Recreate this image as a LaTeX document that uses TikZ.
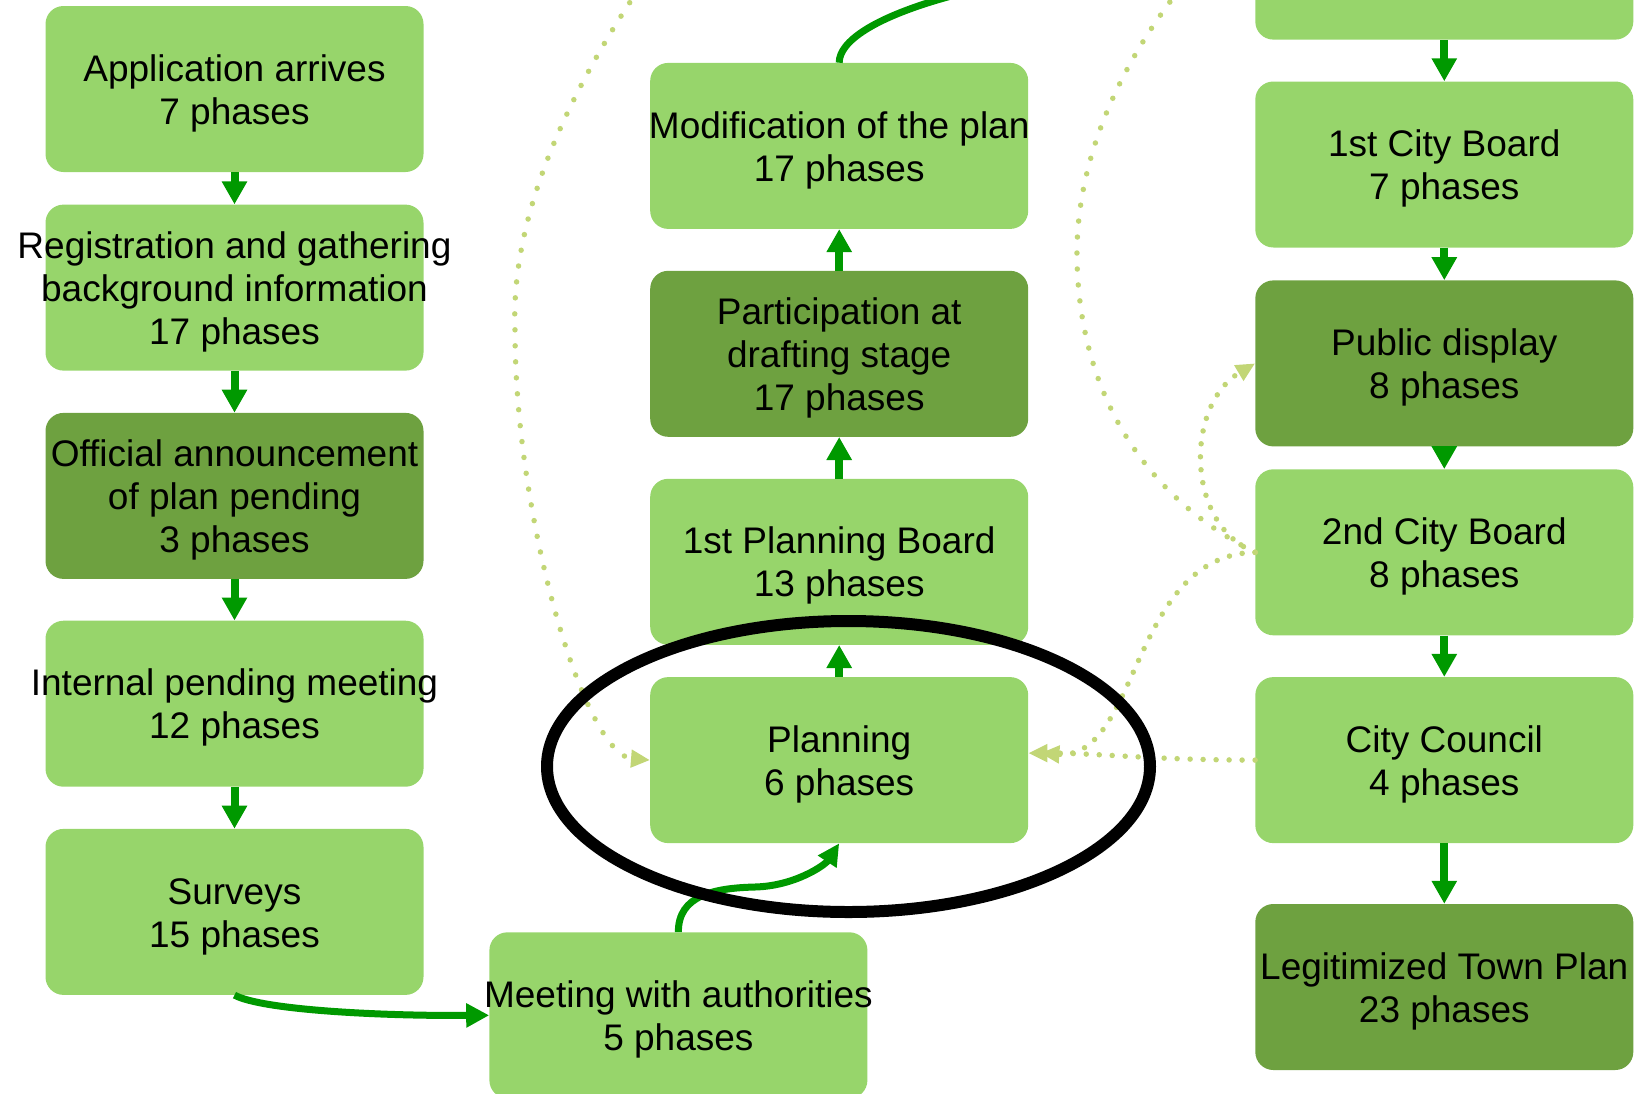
\documentclass[tikz,border=0pt]{standalone}
\usepackage{fontspec}
\setmainfont{Liberation Sans}
\usetikzlibrary{arrows.meta}
\definecolor{lightbox}{RGB}{151,213,107}
\definecolor{darkbox}{RGB}{110,161,64}
\definecolor{arrowgreen}{RGB}{0,153,0}
\definecolor{dotgreen}{RGB}{194,214,118}
\newcommand{\topstrut}{\rule{0pt}{35pt}}
\begin{document}
\begin{tikzpicture}[x=1pt,y=-1pt,
  boxbase/.style={rectangle, rounded corners=18pt, minimum width=378pt, minimum height=166pt, inner sep=0pt},
  pbox/.style={boxbase, fill=lightbox},
  dbox/.style={boxbase, fill=darkbox},
  txt/.style={inner sep=0pt, align=center, font=\fontsize{37}{43}\selectfont},
  flow/.style={draw=arrowgreen, line width=8pt, -{Triangle[length=23pt,width=24pt]}},
  curveflow/.style={draw=arrowgreen, line width=7pt, -{Triangle[length=23pt,width=23pt]}},
  dotline/.style={draw=dotgreen, line width=5.5pt, line cap=round, dash pattern=on 0pt off 13pt},
  dotbig/.style={draw=dotgreen, line width=5.5pt, line cap=round, dash pattern=on 0pt off 16pt},
  dottip/.style={-{Triangle[length=19pt,width=17pt]}},
  ring/.style={draw=black, line width=12pt}
]
\useasboundingbox (0,0) rectangle (1650,1093);
\clip (0,0) rectangle (1650,1093);

% left column
\node[pbox] (app) at (234.5,89) {};
\node[pbox] (reg) at (234.5,287.6) {};
\node[dbox] (off) at (234.5,495.9) {};
\node[pbox] (int) at (234.5,703.7) {};
\node[pbox] (sur) at (234.5,911.9) {};
% middle column
\node[pbox] (mod) at (839.2,145.9) {};
\node[dbox] (part) at (839.2,353.8) {};
\node[pbox] (pb1) at (839.2,561.8) {};
\node[pbox] (plan) at (839.2,760.1) {};
\node[pbox] (meet) at (678.4,1015.3) {};
% right column
\node[pbox] (top) at (1444.3,-43.4) {};
\node[pbox] (cb1) at (1444.3,164.5) {};
\node[dbox] (pd) at (1444.3,363.4) {};
\node[pbox] (cb2) at (1444.3,552.3) {};
\node[pbox] (cc) at (1444.3,760.1) {};
\node[dbox] (leg) at (1444.3,987) {};

% texts
\node[txt] (app-t) at (app.center) {\topstrut Application arrives\\7 phases};
\node[txt] (reg-t) at (reg.center) {\topstrut Registration and gathering\\background information\\17 phases};
\node[txt] (off-t) at (off.center) {\topstrut Official announcement\\of plan pending\\3 phases};
\node[txt] (int-t) at (int.center) {\topstrut Internal pending meeting\\12 phases};
\node[txt] (sur-t) at (sur.center) {\topstrut Surveys\\15 phases};
\node[txt] (mod-t) at (mod.center) {\topstrut Modification of the plan\\17 phases};
\node[txt] (part-t) at (part.center) {\topstrut Participation at\\drafting stage\\17 phases};
\node[txt] (pb1-t) at (pb1.center) {\topstrut 1st Planning Board\\13 phases};
\node[txt] (plan-t) at (plan.center) {\topstrut Planning\\6 phases};
\node[txt] (meet-t) at (meet.center) {\topstrut Meeting with authorities\\5 phases};
\node[txt] (cb1-t) at (cb1.center) {\topstrut 1st City Board\\7 phases};
\node[txt] (pd-t) at (pd.center) {\topstrut Public display\\8 phases};
\node[txt] (cb2-t) at (cb2.center) {\topstrut 2nd City Board\\8 phases};
\node[txt] (cc-t) at (cc.center) {\topstrut City Council\\4 phases};
\node[txt] (leg-t) at (leg.center) {\topstrut Legitimized Town Plan\\23 phases};

% straight flow arrows
\draw[flow] (app) -- (reg);
\draw[flow] (reg) -- (off);
\draw[flow] (off) -- (int);
\draw[flow] (int) -- (sur);
\draw[flow] (plan) -- (pb1);
\draw[flow] (pb1) -- (part);
\draw[flow] (part) -- (mod);
\draw[flow] (top) -- (cb1);
\draw[flow] (cb1) -- (pd);
\draw[flow] (pd) -- (cb2);
\draw[flow] (cb2) -- (cc);
\draw[flow] (cc) -- (leg);

% dotted feedback lines
\coordinate (lsrc) at (666,-50);
\coordinate (rdst) at (1213,-50);
\draw[dotbig, dottip] (lsrc) .. controls (575,75) and (510,210) .. (515,330)
  .. controls (515,520) and (585,755) .. (plan.west);
\draw[dotbig] (cb2.west) .. controls (1150,500) and (1080,400) .. (1077,260)
  .. controls (1075,150) and (1130,40) .. (rdst);
\draw[dotline, dottip] (cb2.west) .. controls (1185,525) and (1185,405) .. (pd.west);
\draw[dotline, dottip] (cb2.west) .. controls (1130,555) and (1140,760) .. ([xshift=12pt,yshift=7pt]plan.east);
\draw[dotline, dottip] (cc.west) .. controls (1150,760) and (1100,753) .. ([yshift=7pt]plan.east);

% curved flow arrows
\draw[curveflow] (sur.south) .. controls (262,1010) and (380,1016) .. (meet.west);
\draw[curveflow, -{Triangle[length=22pt,width=21pt]}] (meet.north) .. controls (678,895) and (715,888) .. (755,887)
  .. controls (795,886) and (825,865) .. (plan.south);
\draw[curveflow] (mod.north) .. controls (839,20) and (980,-30) .. (top.west);

% highlight ring
\draw[ring] (848.5,766.5) ellipse [x radius=301.5pt, y radius=145.5pt];
\end{tikzpicture}
\end{document}
